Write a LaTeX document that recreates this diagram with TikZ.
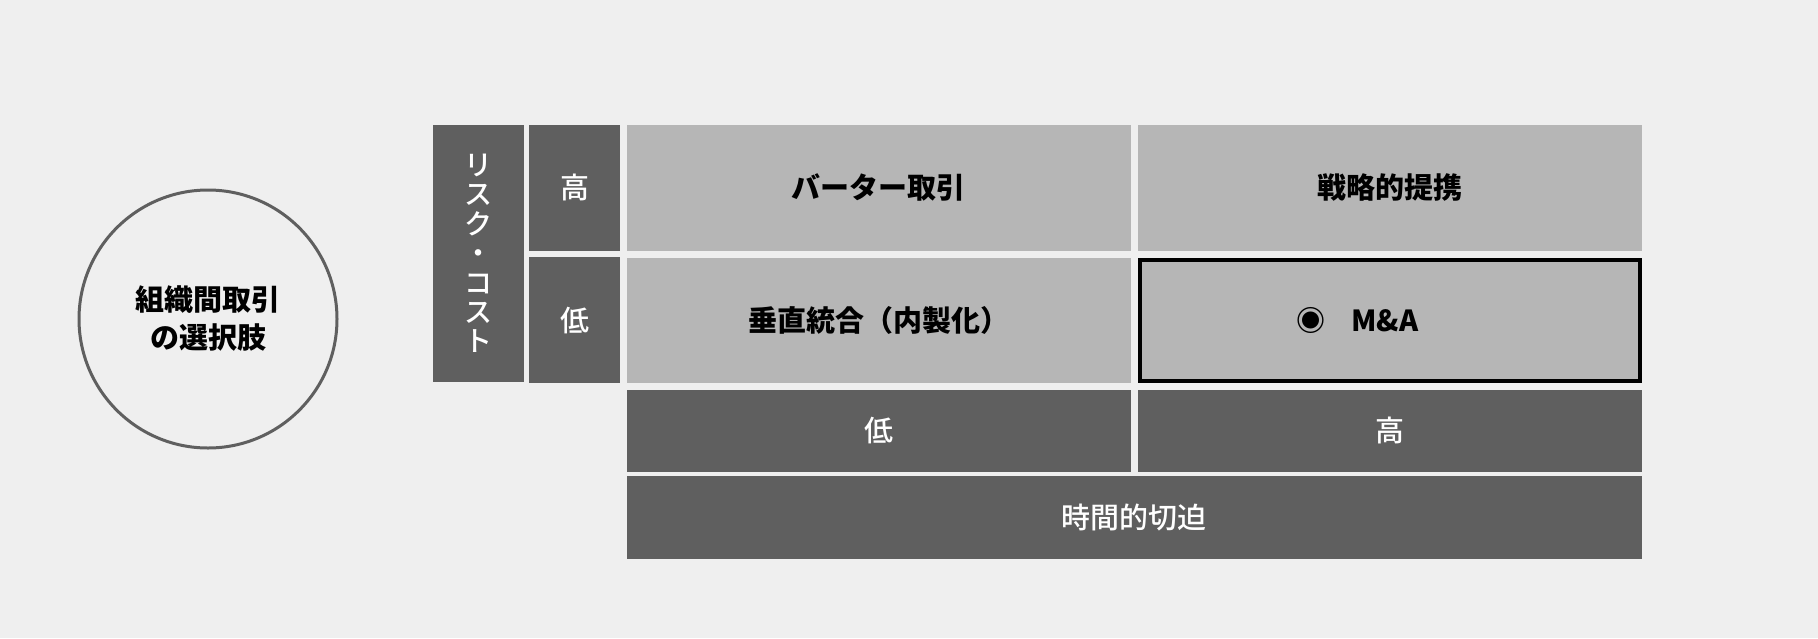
\documentclass[tikz,border=0pt]{standalone}
\usepackage{fontspec}
\setmainfont{Noto Sans CJK JP}
\newfontfamily\medium{Noto Sans CJK JP Medium}

\definecolor{paper}{HTML}{EFEFEF}
\definecolor{slate}{HTML}{5F5F5F}
\definecolor{ash}{HTML}{B6B6B6}

\tikzset{
    cell/.style 2 args={minimum width=#1pt, minimum height=#2pt, inner sep=0pt, outer sep=0pt},
    darkcell/.style={fill=slate, text=white, font=\medium\fontsize{29}{38}\selectfont},
    lightcell/.style={fill=ash, text=black, font=\bfseries\fontsize{29}{38}\selectfont},
}

\begin{document}
\begin{tikzpicture}[x=1pt, y=-1pt]

        \useasboundingbox[fill=paper] (0, 0) rectangle (1818, 638);

        \node (choice) [circle, draw=slate, line width=3pt, minimum size=258pt, align=center,
            font=\bfseries\fontsize{29}{38}\selectfont] at (208, 319) {組織間取引\\の選択肢};

        \node (risk)  [cell={91}{257},   darkcell, align=center, font=\medium\fontsize{28}{29.4}\selectfont]
            at (478.5, 253.5) {リ\\ス\\ク\\・\\コ\\ス\\ト};
        \node (rhigh) [cell={91}{125.5}, darkcell] at (574.5, 187.75) {高};
        \node (rlow)  [cell={91}{125.5}, darkcell] at (574.5, 320.1)  {低};

        \node (barter)   [cell={503.5}{125.5}, lightcell] at (878.75, 187.75) {バーター取引};
        \node (alliance) [cell={504}{125.5},   lightcell] at (1389.5, 187.75) {戦略的提携};
        \node (vertical) [cell={503.5}{125},   lightcell] at (878.75, 320)    {垂直統合（内製化）};
        \node (merger)   [cell={500}{121},     lightcell, draw=black, line width=4pt] at (1389.5, 320) {};
        \node (mtext)    [lightcell, fill=none] at ([xshift=-32pt]merger.center) {◉\hspace{26pt}M\&A};

        \node (clow)  [cell={503.5}{82.5}, darkcell] at (878.75, 430.75) {低};
        \node (chigh) [cell={504}{82.5},   darkcell] at (1389.5, 430.75) {高};
        \node (time)  [cell={1014.5}{83},  darkcell] at (1134.25, 517.5) {時間的切迫};

    \end{tikzpicture}
\end{document}
